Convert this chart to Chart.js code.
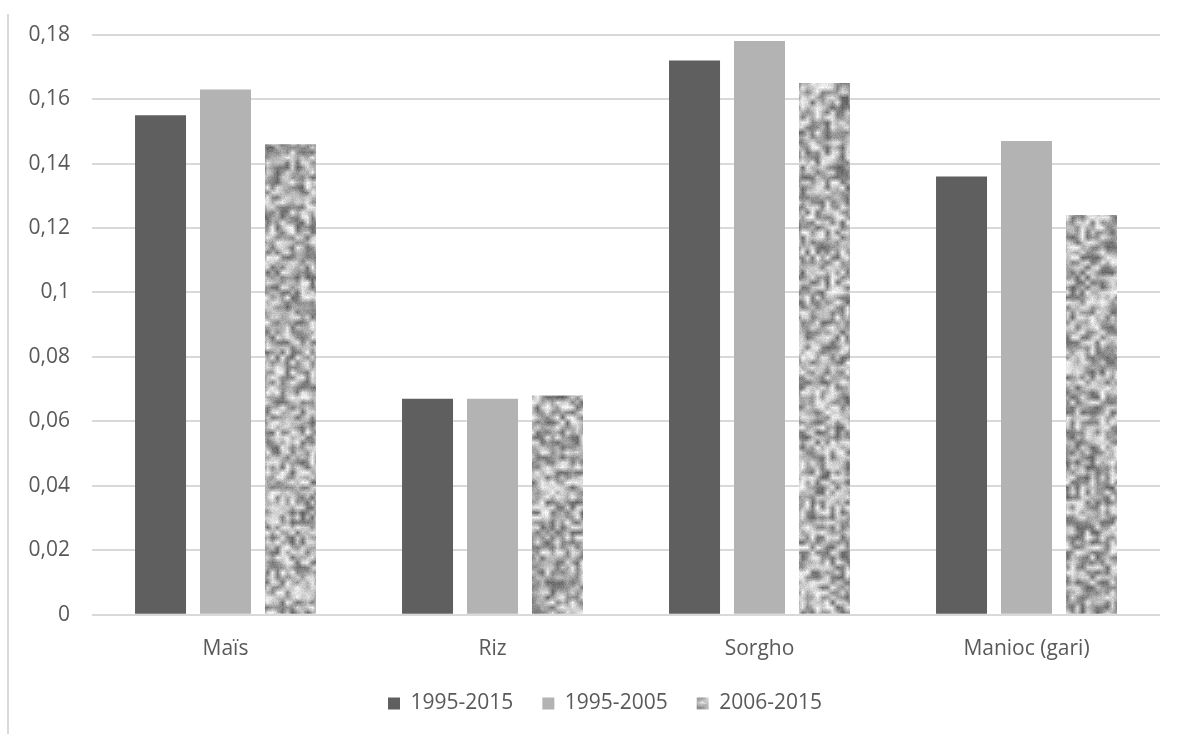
<!DOCTYPE html>
<html>
<head>
<meta charset="utf-8">
<script src="https://cdn.jsdelivr.net/npm/chart.js@4/dist/chart.umd.min.js"></script>
<style>
  html, body { margin: 0; padding: 0; background: #fff; }
  #wrap { position: relative; width: 1179px; height: 734px; }
  #bord { position: absolute; left: 7px; top: 14px; width: 0; height: 720px; border-left: 2px solid #d9d9d9; }
  canvas { position: absolute; left: 0; top: 0; }
</style>
</head>
<body>
<div id="wrap">
  <div id="bord"></div>
  <canvas id="graph" width="1179" height="734"></canvas>
</div>
<script>
// --- DATA ---
const cultures = ['Maïs', 'Riz', 'Sorgho', 'Manioc (gari)'];
const periodes = ['1995-2015', '1995-2005', '2006-2015'];
const val1995_2015 = [0.155, 0.067, 0.172, 0.136];
const val1995_2005 = [0.163, 0.067, 0.178, 0.147];
const val2006_2015 = [0.146, 0.068, 0.165, 0.124];
const ticksY = [0, 0.02, 0.04, 0.06, 0.08, 0.1, 0.12, 0.14, 0.16, 0.18];

// texture granitée pour la 3e série (générateur pseudo-aléatoire fixe, juste pour le motif)
function texture() {
    let seed = 12345;
    const rnd = () => { seed = (seed * 1103515245 + 12345) % 2147483648; return seed / 2147483648; };
    const W = 1179, H = 734, f = 5;
    const sw = Math.ceil(W / f), sh = Math.ceil(H / f);
    const small = document.createElement('canvas');
    small.width = sw; small.height = sh;
    const sc = small.getContext('2d');
    const simg = sc.createImageData(sw, sh);
    for (let i = 0; i < simg.data.length; i += 4) {
        const g = Math.round(100 + rnd() * 150);
        simg.data[i] = simg.data[i + 1] = simg.data[i + 2] = g;
        simg.data[i + 3] = 255;
    }
    sc.putImageData(simg, 0, 0);
    const c = document.createElement('canvas');
    c.width = W; c.height = H;
    const ctx = c.getContext('2d');
    ctx.imageSmoothingEnabled = true;
    ctx.drawImage(small, 0, 0, sw * f, sh * f);
    const img = ctx.getImageData(0, 0, W, H);
    for (let i = 0; i < img.data.length; i += 4) {
        const n = (rnd() - 0.5) * 26;
        for (let k = 0; k < 3; k++) img.data[i + k] = Math.max(0, Math.min(255, img.data[i + k] + n));
    }
    ctx.putImageData(img, 0, 0);
    return document.getElementById('graph').getContext('2d').createPattern(c, 'no-repeat');
}

// décale la légende (centrée un peu à droite, plus haut que la place par défaut)
const decaleLegende = {
    id: 'decaleLegende',
    afterLayout(chart) {
        const l = chart.legend;
        l.left += 25; l.right += 25;
        l.top -= 12; l.bottom -= 12;
    }
};

const motif = texture();
const police = "'Open Sans', 'Liberation Sans', sans-serif";

new Chart(document.getElementById('graph'), {
    type: 'bar',
    data: {
        labels: cultures,
        datasets: [
            { label: periodes[0], data: val1995_2015, backgroundColor: '#5f5f5f' },
            { label: periodes[1], data: val1995_2005, backgroundColor: '#b3b3b3' },
            { label: periodes[2], data: val2006_2015, backgroundColor: motif }
        ]
    },
    plugins: [decaleLegende],
    options: {
        responsive: false,
        animation: false,
        layout: { padding: { left: 0, right: 19, top: 27, bottom: -2 } },
        datasets: { bar: { categoryPercentage: 0.73, barPercentage: 0.785 } },
        scales: {
            x: {
                grid: { display: false },
                border: { display: false },
                ticks: { color: '#595959', font: { family: police, size: 21 }, padding: 14 }
            },
            y: {
                min: 0,
                max: 0.18,
                afterBuildTicks: (axis) => { axis.ticks = ticksY.map(v => ({ value: v })); },
                afterFit: (axis) => { axis.width = 92; },
                grid: { color: '#d9d9d9', lineWidth: 2, drawTicks: false },
                border: { display: false },
                ticks: {
                    color: '#595959',
                    padding: 22,
                    font: { family: police, size: 21 },
                    callback: (v) => String(v).replace('.', ',')
                }
            }
        },
        plugins: {
            legend: {
                position: 'bottom',
                labels: {
                    color: '#595959',
                    font: { family: police, size: 21 },
                    boxWidth: 12,
                    boxHeight: 12,
                    padding: 29
                }
            },
            tooltip: { enabled: false }
        }
    }
});
</script>
</body>
</html>
